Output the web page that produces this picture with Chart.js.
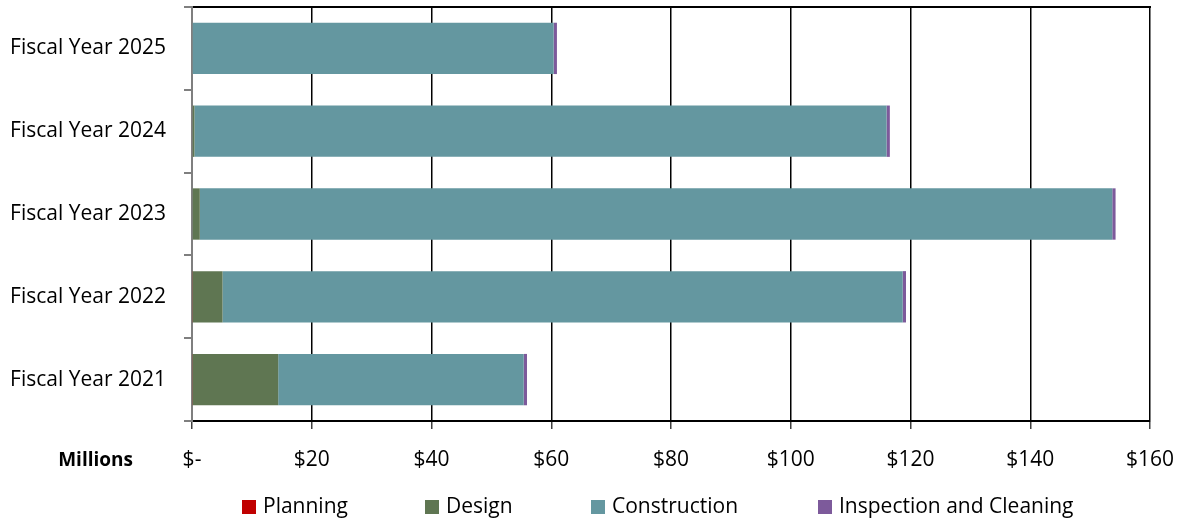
<!DOCTYPE html>
<html>
<head>
<meta charset="utf-8">
<script src="https://cdn.jsdelivr.net/npm/chart.js@4"></script>
<style>
  html, body { margin: 0; padding: 0; background: #fff; }
  #wrap { width: 1181px; height: 521px; }
</style>
</head>
<body>
<div id="wrap"><canvas id="myChart" width="1181" height="521"></canvas></div>
<script>
// values in millions of dollars
const years = ['Fiscal Year 2025', 'Fiscal Year 2024', 'Fiscal Year 2023', 'Fiscal Year 2022', 'Fiscal Year 2021'];
const planning = [0, 0, 0, 0.1, 0.1];
const design = [0, 0.4, 1.3, 5.0, 14.3];
const construction = [60.4, 115.6, 152.4, 113.6, 41.0];
const inspection = [0.55, 0.55, 0.55, 0.55, 0.55];
const xTicks = [0, 20, 40, 60, 80, 100, 120, 140, 160];

const fontName = "'Open Sans', sans-serif";

// legend drawn by hand so the spacing can match the original
const legendPlugin = {
    id: 'bottomLegend',
    afterDraw(chart) {
        const ctx = chart.ctx;
        const starts = [242, 425, 591, 818];
        ctx.save();
        ctx.font = '21px ' + fontName;
        ctx.textBaseline = 'middle';
        chart.data.datasets.forEach((ds, i) => {
            const x = starts[i];
            const y = 507;
            ctx.fillStyle = ds.backgroundColor;
            ctx.fillRect(x, y - 7, 14, 14);
            ctx.fillStyle = '#000';
            ctx.fillText(ds.label, x + 21, y);
        });
        ctx.font = 'bold 19px ' + fontName;
        ctx.textAlign = 'right';
        ctx.fillText('Millions', 133, 461);
        ctx.restore();
    }
};

function drawChart() {
    const data = {
        labels: years,
        datasets: [
            { label: 'Planning', data: planning, backgroundColor: '#C00000' },
            { label: 'Design', data: design, backgroundColor: '#5F7652' },
            { label: 'Construction', data: construction, backgroundColor: '#6497A0' },
            { label: 'Inspection and Cleaning', data: inspection, backgroundColor: '#7D5A9B' }
        ]
    };
    data.datasets.forEach(ds => {
        ds.borderWidth = 0;
        ds.barPercentage = 0.62;
        ds.categoryPercentage = 1;
    });

    const config = {
        type: 'bar',
        data,
        options: {
            indexAxis: 'y',
            responsive: false,
            animation: false,
            layout: { padding: { top: 7, right: 31, bottom: 35, left: 0 } },
            plugins: {
                legend: { display: false },
                tooltip: { enabled: false }
            },
            scales: {
                x: {
                    stacked: true,
                    min: 0,
                    max: 160,
                    afterBuildTicks: (axis) => { axis.ticks = xTicks.map(v => ({ value: v })); },
                    afterFit: (axis) => {
                        axis.height = 65;
                        axis.paddingLeft = 0;
                        axis.paddingRight = 0;
                    },
                    ticks: {
                        color: '#000',
                        padding: 18,
                        maxRotation: 0,
                        font: { family: fontName, size: 21 },
                        callback: (v) => v === 0 ? '$-' : '$' + v
                    },
                    grid: { color: '#000', lineWidth: 1.5, tickLength: 8, tickColor: '#404040' },
                    border: { color: '#000', width: 2 }
                },
                xTop: {
                    position: 'top',
                    min: 0,
                    max: 160,
                    afterFit: (axis) => {
                        axis.height = 0;
                        axis.paddingLeft = 0;
                        axis.paddingRight = 0;
                    },
                    ticks: { display: false },
                    grid: { display: false },
                    border: { color: '#000', width: 2 }
                },
                y: {
                    stacked: true,
                    afterFit: (axis) => {
                        axis.width = 192;
                        axis.paddingTop = 0;
                        axis.paddingBottom = 0;
                    },
                    ticks: {
                        color: '#000',
                        padding: 18,
                        font: { family: fontName, size: 21 }
                    },
                    grid: { offset: true, drawOnChartArea: false, tickLength: 8, color: '#7f7f7f', lineWidth: 2 },
                    border: { color: '#7f7f7f', width: 2 }
                }
            }
        },
        plugins: [legendPlugin]
    };

    new Chart(document.getElementById('myChart'), config);
}

drawChart();
</script>
</body>
</html>
